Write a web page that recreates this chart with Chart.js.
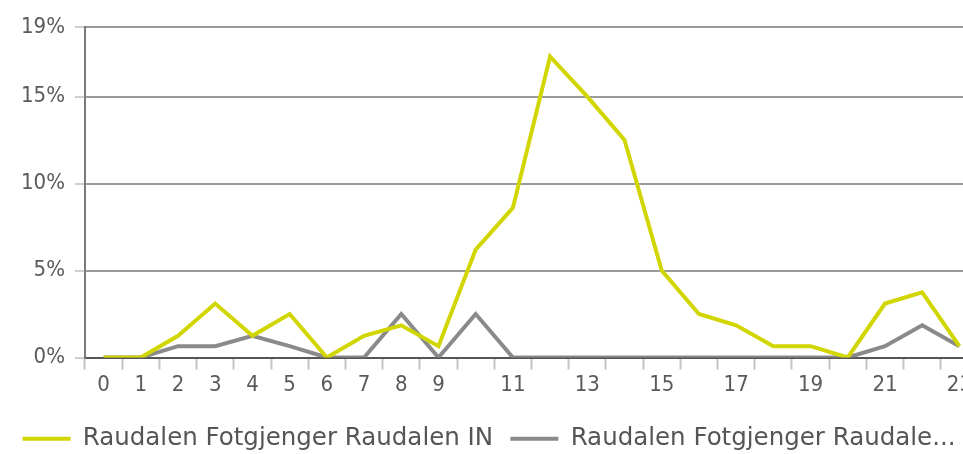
<!DOCTYPE html>
<html>
<head>
<meta charset="utf-8">
<script src="https://cdn.jsdelivr.net/npm/chart.js@4/dist/chart.umd.min.js"></script>
<style>
  html, body { margin: 0; padding: 0; background: #fff; overflow: hidden; }
  #wrap { width: 978px; height: 454px; position: relative; }
</style>
</head>
<body>
<div id="wrap"><canvas id="chart"></canvas></div>
<script>
// hours of the day
const hours = ['0','1','2','3','4','5','6','7','8','9','10','11','12','13','14','15','16','17','18','19','20','21','22','23'];

// share of passings per hour (%)
const raudalenIn = [0, 0, 1.25, 3.1, 1.25, 2.5, 0, 1.25, 1.85, 0.65, 6.2, 8.6, 17.3, 15.0, 12.5, 5.0, 2.5, 1.85, 0.65, 0.65, 0, 3.1, 3.75, 0.65];
const raudalenUt = [0, 0, 0.65, 0.65, 1.25, 0.65, 0, 0, 2.5, 0, 2.5, 0, 0, 0, 0, 0, 0, 0, 0, 0, 0, 0.65, 1.85, 0.65];

const seriesNames = ['Raudalen Fotgjenger Raudalen IN', 'Raudalen Fotgjenger Raudale...'];
const yTicks = [0, 5, 10, 15, 19];

const yellow = '#d2d600';
const grey = '#8a8a8a';

new Chart(document.getElementById('chart'), {
    type: 'line',
    data: {
        labels: hours,
        datasets: [
            {
                label: seriesNames[0],
                data: raudalenIn,
                borderColor: yellow,
                backgroundColor: yellow,
                borderWidth: 4,
                pointRadius: 0,
                tension: 0
            },
            {
                label: seriesNames[1],
                data: raudalenUt,
                borderColor: grey,
                backgroundColor: grey,
                borderWidth: 4,
                pointRadius: 0,
                tension: 0
            }
        ]
    },
    options: {
        responsive: true,
        maintainAspectRatio: false,
        animation: false,
        // negative bottom padding pushes the legend a little lower
        layout: { padding: { top: 27, right: 0, left: 0, bottom: -7 } },
        scales: {
            x: {
                offset: true,
                afterFit: (scale) => { scale.height = 64; },
                grid: {
                    offset: true,
                    drawOnChartArea: false,
                    drawTicks: true,
                    tickLength: 12,
                    tickColor: '#c4c4c4',
                    tickWidth: 2
                },
                border: { color: '#555', width: 2 },
                ticks: {
                    autoSkip: false,
                    maxRotation: 0,
                    padding: 3,
                    color: '#5a5a5a',
                    font: { family: 'DejaVu Sans Condensed', size: 22 },
                    callback: function (val, i) {
                        // after 9 only the odd hours get a label
                        if (i >= 10 && i % 2 === 0) return '';
                        return this.getLabelForValue(val);
                    }
                }
            },
            y: {
                min: 0,
                max: 19,
                afterBuildTicks: (scale) => { scale.ticks = yTicks.map(v => ({ value: v })); },
                afterFit: (scale) => { scale.width = 85; },
                grid: {
                    color: (ctx) => ctx.tick && ctx.tick.value === 0 ? '#555' : '#9a9a9a',
                    lineWidth: 2,
                    tickLength: 10,
                    tickColor: '#cfcfcf'
                },
                border: { color: '#7a7a7a', width: 2 },
                ticks: {
                    padding: 10,
                    color: '#5a5a5a',
                    font: { family: 'DejaVu Sans Condensed', size: 22 },
                    callback: (v) => v + '%'
                }
            }
        },
        plugins: {
            tooltip: { enabled: false },
            legend: {
                position: 'bottom',
                labels: {
                    boxWidth: 48,
                    boxHeight: 4,
                    padding: 5,
                    color: '#555',
                    font: { family: 'DejaVu Sans', size: 24.5, lineHeight: 1 },
                    generateLabels: (chart) => {
                        const items = Chart.defaults.plugins.legend.labels.generateLabels(chart);
                        items.forEach((item, i) => {
                            item.lineWidth = 0;
                            item.strokeStyle = 'rgba(0,0,0,0)';
                            // a bit of room before the next entry
                            if (i < items.length - 1) item.text = item.text + '\u2002';
                        });
                        return items;
                    }
                }
            }
        }
    }
});
</script>
</body>
</html>
